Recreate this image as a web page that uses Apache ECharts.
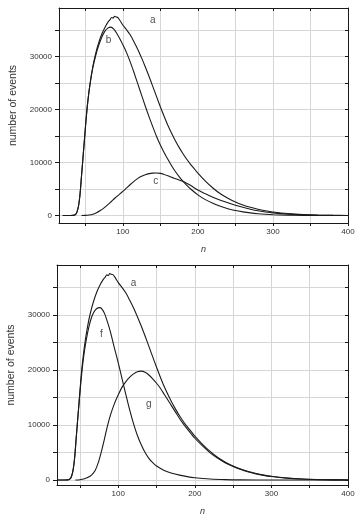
<!DOCTYPE html>
<html>
<head>
<meta charset="utf-8">
<script src="https://cdn.jsdelivr.net/npm/echarts@6/dist/echarts.min.js"></script>
<style>
  html, body { margin: 0; padding: 0; background: #fff; }
  #chart { width: 356px; height: 517px; }
</style>
</head>
<body>
<div id="chart"></div>
<script>
// curve a (same in both panels): [n, events]
const curveA = [
  [20, 0], [30, 0], [34, 30], [37, 200], [39, 700], [41, 1800], [43, 4000], [45, 7500],
  [47, 11000], [49, 14500], [51, 18000], [53, 21000], [56, 24500], [60, 28000], [64, 30600],
  [68, 32600], [72, 34200], [76, 35400], [80, 36400], [83, 36900], [85, 37300], [87, 37200],
  [89, 37550], [91, 37400], [93, 37350], [96, 36800], [100, 35900], [105, 35000], [110, 34000],
  [115, 32700], [120, 31300], [125, 29700], [130, 28000], [135, 26200], [140, 24300],
  [145, 22400], [150, 20500], [155, 18700], [160, 17000], [165, 15500], [170, 14100],
  [175, 12850], [180, 11700], [185, 10650], [190, 9700], [195, 8850], [200, 8000], [210, 6500],
  [220, 5200], [230, 4100], [240, 3250], [250, 2550], [260, 2000], [270, 1550], [280, 1180],
  [290, 900], [300, 680], [320, 380], [340, 200], [360, 95], [380, 40], [400, 15]
];
const curveB = [
  [20, 0], [30, 0], [34, 30], [37, 200], [39, 700], [41, 1800], [43, 4000], [45, 7500],
  [47, 11000], [49, 14500], [51, 18000], [53, 21000], [56, 24400], [60, 27800], [64, 30200],
  [68, 32100], [72, 33600], [76, 34700], [80, 35300], [84, 35500], [88, 35100], [92, 34300],
  [96, 33300], [100, 32200], [105, 30700], [110, 28900], [115, 26900], [120, 24800],
  [125, 22700], [130, 20600], [135, 18600], [140, 16700], [145, 14900], [150, 13300],
  [155, 11900], [160, 10600], [165, 9400], [170, 8300], [175, 7350], [180, 6500], [185, 5750],
  [190, 5050], [200, 3900], [210, 3000], [220, 2300], [230, 1750], [240, 1300], [250, 950],
  [260, 700], [270, 500], [280, 350], [290, 240], [300, 160], [320, 70], [340, 30], [360, 10],
  [400, 0]
];
const curveC = [
  [45, 0], [50, 30], [55, 100], [60, 250], [65, 550], [70, 950], [75, 1450], [80, 2050],
  [85, 2700], [90, 3350], [95, 3950], [100, 4550], [105, 5200], [110, 5850], [115, 6450],
  [120, 7000], [125, 7400], [130, 7700], [135, 7900], [140, 8000], [145, 8020], [150, 7950],
  [155, 7750], [160, 7500], [165, 7200], [170, 6950], [175, 6700], [180, 6450], [185, 6100],
  [190, 5700], [200, 4800], [210, 4100], [220, 3450], [230, 2900], [240, 2400], [250, 1950],
  [260, 1550], [270, 1200], [280, 900], [290, 680], [300, 500], [320, 270], [340, 140],
  [360, 65], [380, 30], [400, 10]
];
const curveF = [
  [20, 0], [30, 0], [34, 30], [37, 200], [39, 700], [41, 1800], [43, 4000], [45, 7500],
  [47, 11000], [49, 14300], [51, 17500], [53, 20300], [56, 23600], [60, 26800], [64, 29100],
  [68, 30500], [72, 31200], [76, 31350], [78, 31200], [82, 30300], [86, 28700], [90, 26800],
  [95, 24000], [100, 21300], [105, 18400], [110, 15500], [115, 12700], [120, 10200],
  [125, 8100], [130, 6400], [135, 5000], [140, 3950], [145, 3150], [150, 2550], [160, 1750],
  [170, 1250], [180, 900], [190, 620], [200, 420], [220, 180], [240, 70], [260, 25], [300, 0],
  [400, 0]
];
const curveG = [
  [44, 0], [50, 60], [55, 180], [60, 450], [65, 900], [70, 1800], [74, 3200], [78, 5200],
  [82, 7500], [86, 9900], [90, 11900], [95, 13900], [100, 15500], [105, 16900], [110, 17900],
  [115, 18700], [120, 19300], [125, 19700], [130, 19800], [135, 19600], [140, 19100],
  [145, 18400], [150, 17600], [155, 16700], [160, 15600], [165, 14500], [170, 13400],
  [175, 12300], [180, 11200], [185, 10200], [190, 9300], [195, 8450], [200, 7600], [210, 6200],
  [220, 4950], [230, 3950], [240, 3100], [250, 2450], [260, 1900], [270, 1470], [280, 1120],
  [290, 850], [300, 640], [320, 350], [340, 180], [360, 85], [380, 35], [400, 12]
];

// curve letters: [n, events, text]
const topLabels = [[140, 36800, 'a'], [81, 33000, 'b'], [144, 6400, 'c']];
const bottomLabels = [[120, 35800, 'a'], [78, 26500, 'f'], [140, 13800, 'g']];

const xTicks = [50, 100, 150, 200, 250, 300, 350, 400];
const xTickLabels = [100, 200, 300, 400];
const yTicks = [0, 5000, 10000, 15000, 20000, 25000, 30000, 35000];
const yTickLabels = [0, 10000, 20000, 30000];

const chart = echarts.init(document.getElementById('chart'));

const ink = '#1a1a1a';
const font = 'Liberation Sans, Arial, sans-serif';

function xAxisFor(grid, min) {
  return [
    {
      type: 'value', gridIndex: grid, min: min, max: 400, position: 'bottom',
      name: 'n', nameLocation: 'middle', nameGap: 22,
      nameTextStyle: { fontStyle: 'italic', fontSize: 9, color: '#333', fontFamily: font },
      axisLine: { onZero: false, lineStyle: { color: ink, width: 1 } },
      axisTick: { customValues: xTicks, inside: false, length: 3, lineStyle: { color: ink } },
      axisLabel: { customValues: xTickLabels, fontSize: 8, color: '#333', fontFamily: font, margin: 5 },
      splitLine: { show: true, lineStyle: { color: '#d6d6d6', width: 1 } }
    },
    {
      type: 'value', gridIndex: grid, min: min, max: 400, position: 'top',
      axisLine: { onZero: false, lineStyle: { color: ink, width: 1 } },
      axisTick: { customValues: xTicks, inside: true, length: 3, lineStyle: { color: ink } },
      axisLabel: { show: false },
      splitLine: { show: false }
    }
  ];
}

function yAxisFor(grid, min, max) {
  return [
    {
      type: 'value', gridIndex: grid, min: min, max: max, position: 'left',
      name: 'number of events', nameLocation: 'middle', nameGap: 40,
      nameTextStyle: { fontSize: 10.5, color: '#333', fontFamily: font, padding: [0, 0, 0, 20] },
      axisLine: { show: true, onZero: false, lineStyle: { color: ink, width: 1 } },
      axisTick: { show: true, customValues: yTicks, inside: false, length: 4, lineStyle: { color: ink } },
      axisLabel: {
        customValues: yTickLabels, formatter: v => String(v),
        fontSize: 8, color: '#333', fontFamily: font, margin: 7
      },
      splitLine: { show: true, lineStyle: { color: '#d6d6d6', width: 1 } }
    },
    {
      type: 'value', gridIndex: grid, min: min, max: max, position: 'right',
      axisLine: { show: true, onZero: false, lineStyle: { color: ink, width: 1 } },
      axisTick: { show: true, customValues: yTicks, inside: true, length: 3, lineStyle: { color: ink } },
      axisLabel: { show: false },
      splitLine: { show: false }
    }
  ];
}

function curve(data, xi, yi) {
  return {
    type: 'line', data: data, xAxisIndex: xi, yAxisIndex: yi,
    showSymbol: false, smooth: 0.3, silent: true,
    lineStyle: { color: ink, width: 1.1 }
  };
}

function letters(data, xi, yi) {
  return {
    type: 'scatter', data: data, xAxisIndex: xi, yAxisIndex: yi,
    symbolSize: 0, silent: true,
    label: {
      show: true, position: 'inside', formatter: p => p.data[2],
      fontSize: 10, color: '#222', fontFamily: font
    }
  };
}

chart.setOption({
  animation: false,
  backgroundColor: '#fff',
  grid: [
    { left: 59, top: 8, right: 8, height: 215, outerBoundsMode: 'none' },
    { left: 57, top: 265, right: 8, height: 220, outerBoundsMode: 'none' }
  ],
  xAxis: [...xAxisFor(0, 15), ...xAxisFor(1, 20)],
  yAxis: [...yAxisFor(0, -1400, 39100), ...yAxisFor(1, -900, 39100)],
  series: [
    curve(curveA, 0, 0),
    curve(curveB, 0, 0),
    curve(curveC, 0, 0),
    letters(topLabels, 0, 0),
    curve(curveA, 2, 2),
    curve(curveF, 2, 2),
    curve(curveG, 2, 2),
    letters(bottomLabels, 2, 2)
  ]
});
</script>
</body>
</html>
